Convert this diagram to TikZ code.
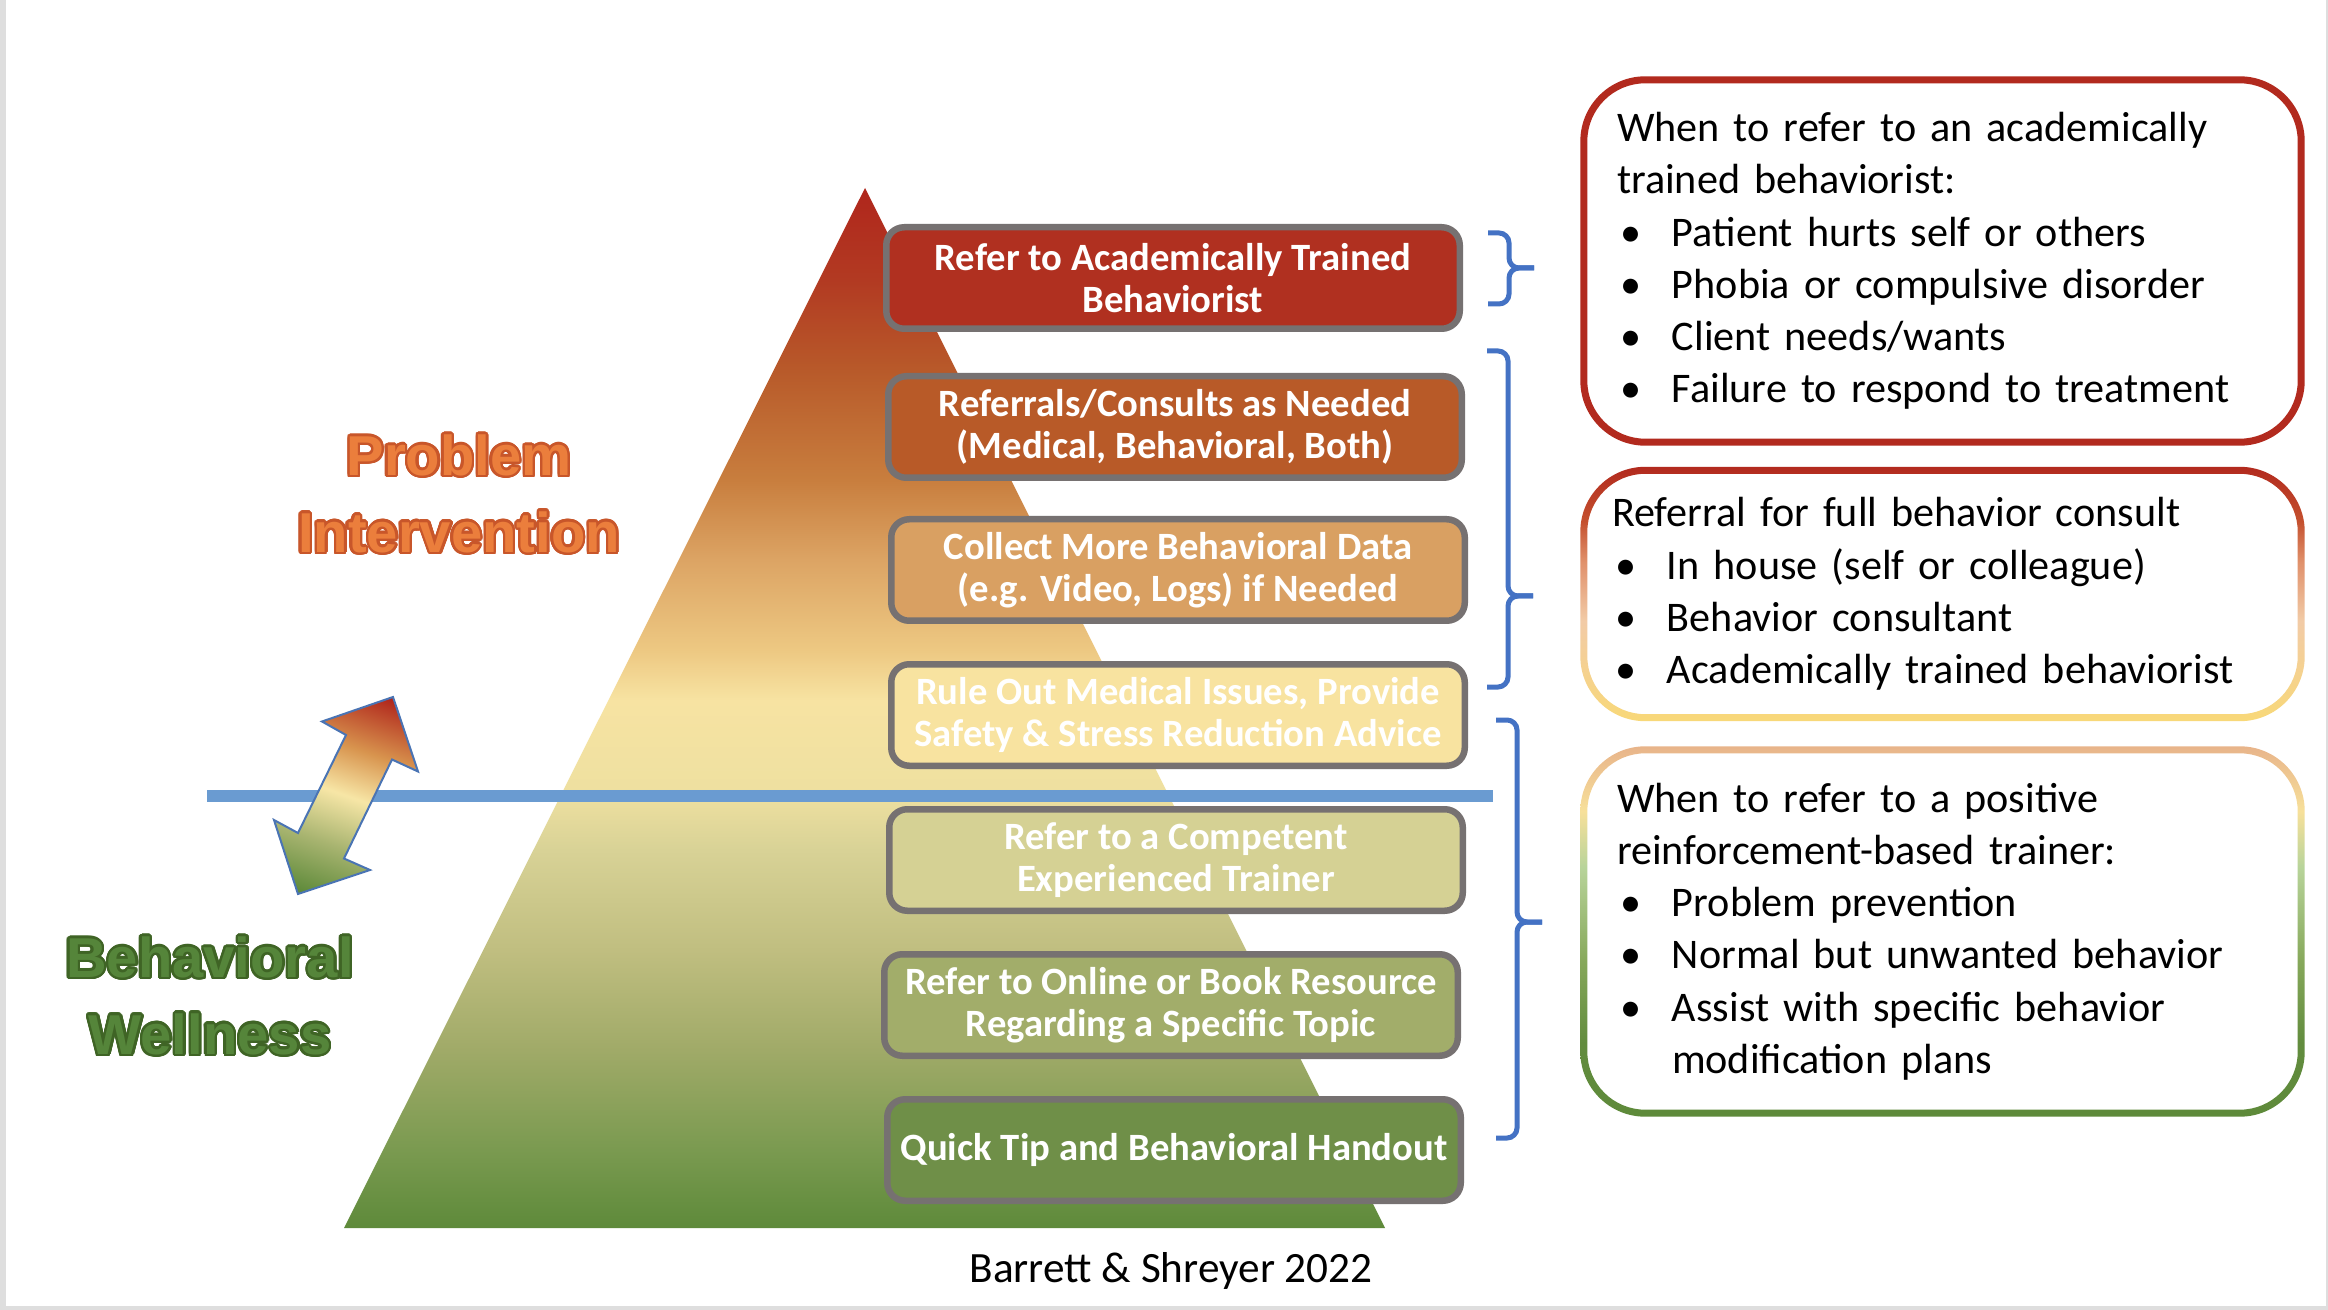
\documentclass[tikz,border=0pt]{standalone}
\usepackage{fontspec}
\setmainfont{Carlito}
\newfontfamily\headfont{Liberation Sans}
\usepackage[copies]{contour}
\contourlength{0.7pt}
\contournumber{24}
\usetikzlibrary{calc}
\setlength\parindent{0pt}

\definecolor{framegray}{HTML}{DEDEDE}
\definecolor{boxedge}{HTML}{767171}
\definecolor{levelblue}{HTML}{6A9BD1}
\definecolor{bracketblue}{HTML}{4472C4}
\definecolor{arrowblue}{HTML}{4A74B4}
\definecolor{tierA}{HTML}{B03020}
\definecolor{tierB}{HTML}{B85A28}
\definecolor{tierC}{HTML}{D9A062}
\definecolor{tierD}{HTML}{F8E3A0}
\definecolor{tierE}{HTML}{D5D194}
\definecolor{tierF}{HTML}{A2AD6A}
\definecolor{tierG}{HTML}{6F8F48}
\definecolor{probfill}{HTML}{EB7E3C}
\definecolor{probedge}{HTML}{C8562A}
\definecolor{wellfill}{HTML}{55853A}
\definecolor{welledge}{HTML}{3F6425}
\definecolor{rimred}{HTML}{B22A1E}
% pyramid colours, bottom to top
\definecolor{pyrA}{HTML}{5E8A3A}
\definecolor{pyrB}{HTML}{7A9A50}
\definecolor{pyrC}{HTML}{A0AA68}
\definecolor{pyrD}{HTML}{C0BE80}
\definecolor{pyrE}{HTML}{D8D296}
\definecolor{pyrF}{HTML}{EEE0A0}
\definecolor{pyrG}{HTML}{F7E3A2}
\definecolor{pyrH}{HTML}{EDC882}
\definecolor{pyrI}{HTML}{DCA464}
\definecolor{pyrJ}{HTML}{C87E3E}
\definecolor{pyrK}{HTML}{B85A2A}
\definecolor{pyrL}{HTML}{B23A22}
\definecolor{pyrM}{HTML}{B0261C}
% rim colours
\definecolor{rimA}{HTML}{C4502E}
\definecolor{rimB}{HTML}{E0906A}
\definecolor{rimC}{HTML}{F2CBA6}
\definecolor{rimD}{HTML}{F8D878}
\definecolor{rimE}{HTML}{E8B48A}
\definecolor{rimF}{HTML}{F7E09A}
\definecolor{rimG}{HTML}{B8D49A}
\definecolor{rimH}{HTML}{86A85A}
\definecolor{rimI}{HTML}{628C3E}
\definecolor{rimJ}{HTML}{5E8A3A}
% arrow colours
\definecolor{arrA}{HTML}{5E8A3A}
\definecolor{arrB}{HTML}{A8B470}
\definecolor{arrC}{HTML}{F7E6A6}
\definecolor{arrD}{HTML}{D8944E}
\definecolor{arrE}{HTML}{B0261C}

\pgfdeclareverticalshading{pyramidshade}{100bp}{color(0bp)=(pyrA); color(25bp)=(pyrA); color(28.75bp)=(pyrB); color(33.56bp)=(pyrC); color(38.37bp)=(pyrD); color(43.17bp)=(pyrE); color(45.87bp)=(pyrF); color(50.38bp)=(pyrG); color(52.79bp)=(pyrH); color(57.12bp)=(pyrI); color(60.96bp)=(pyrJ); color(66.2bp)=(pyrK); color(70.58bp)=(pyrL); color(75bp)=(pyrM); color(100bp)=(pyrM)}
\pgfdeclareverticalshading{consultrim}{100bp}{color(0bp)=(rimD); color(25bp)=(rimD); color(44.6bp)=(rimC); color(56.4bp)=(rimB); color(64.3bp)=(rimA); color(75bp)=(rimred); color(100bp)=(rimred)}
\pgfdeclareverticalshading{trainerrim}{100bp}{color(0bp)=(rimJ); color(25bp)=(rimJ); color(35bp)=(rimI); color(45.9bp)=(rimH); color(58.7bp)=(rimG); color(66.2bp)=(rimF); color(75bp)=(rimE); color(100bp)=(rimE)}
\pgfdeclareverticalshading{swapshade}{100bp}{color(0bp)=(arrA); color(21bp)=(arrA); color(36bp)=(arrB); color(50bp)=(arrC); color(63bp)=(arrD); color(79bp)=(arrE); color(100bp)=(arrE)}

\tikzset{
  tierbox/.style={draw=boxedge, line width=0.65mm, rounded corners=1.8mm, minimum width=57.35mm, minimum height=10.15mm, inner sep=0pt, align=center, text=white, font=\bfseries\fontsize{11}{12}\selectfont},
  notebox/.style={minimum width=72.3mm, text width=65.1mm, inner xsep=3.6mm, inner ysep=0pt, align=left, font=\fontsize{12}{14.86}\selectfont},
  bracketline/.style={draw=bracketblue, line width=0.5mm, rounded corners=1mm}
}

\begin{document}
\begin{tikzpicture}[x=0.1mm, y=-0.1mm]

\def\bul#1{\par\noindent\hangindent=5.5mm\makebox[5.5mm][l]{\kern0.3mm\textbullet}#1\par}
\def\rim#1#2{\path[#2, even odd rule] [rounded corners=6.5mm] (#1.north west) rectangle (#1.south east) [rounded corners=5.8mm] ([shift={(0.7mm,-0.7mm)}]#1.north west) rectangle ([shift={(-0.7mm,0.7mm)}]#1.south east);}
\def\bracket#1#2#3#4{\draw[bracketline] (#1,#2) -| (#1+21,#3) -- (#1+46,#3); \draw[bracketline] (#1+46,#3) -- (#1+21,#3) |- (#1,#4);}

\useasboundingbox (0,0) rectangle (2328,1310);
\fill[framegray] (0,0) rectangle (2328,1310);
\fill[white] (6,0) rectangle (2326,1306);

% pyramid, level line and swap arrow
\shade[shading=pyramidshade] (865,188) -- (1385,1228) -- (344,1228) -- cycle;
\draw[levelblue, line width=1.2mm] (207,796) -- (1493,796);
\shadedraw[shading=swapshade, shading angle=-19.4, draw=arrowblue, line width=0.2mm] (393,697) -- (418,771.5) -- (392,759.5) -- (344,858.5) -- (370,870) -- (298,894) -- (274,820) -- (298,833) -- (346,735) -- (322,721.5) -- cycle;

\node[font=\headfont\bfseries\fontsize{16}{21.9}\selectfont, text=probfill, align=center] (PI) at (459,495) {\contour{probedge}{Problem}\\\contour{probedge}{Intervention}};
\node[font=\headfont\bfseries\fontsize{16}{21.9}\selectfont, text=wellfill, align=center] (BW) at (210,997) {\contour{welledge}{Behavioral}\\\contour{welledge}{Wellness}};

% tiers
\node[tierbox, fill=tierA] (AT) at (1173,278) {Refer to Academically Trained\\Behaviorist};
\node[tierbox, fill=tierB] (RC) at (1175,427) {Referrals/Consults as Needed\\(Medical, Behavioral, Both)};
\node[tierbox, fill=tierC] (BD) at (1178,570) {Collect More Behavioral Data\\(e.g. Video, Logs) if Needed};
\node[tierbox, fill=tierD] (MI) at (1178,715) {Rule Out Medical Issues, Provide\\Safety \& Stress Reduction Advice};
\node[tierbox, fill=tierE] (CT) at (1176,860) {Refer to a Competent\\Experienced Trainer};
\node[tierbox, fill=tierF] (OR) at (1171,1005) {Refer to Online or Book Resource\\Regarding a Specific Topic};
\node[tierbox, fill=tierG] (QT) at (1174,1150) {Quick Tip and Behavioral Handout};

\bracket{1488}{233}{268}{304}
\bracket{1487}{351}{596}{687}
\bracket{1496}{720}{922}{1138}

% notes
\node[notebox, minimum height=36.8mm] (WB) at (1942.5,261) {When to refer to an academically\\trained behaviorist:
\bul{Patient hurts self or others}
\bul{Phobia or compulsive disorder}
\bul{Client needs/wants}
\bul{Failure to respond to treatment}};
\node[notebox, minimum height=25.3mm, text width=66.1mm, inner xsep=3.1mm] (FC) at (1942.5,594) {Referral for full behavior consult
\bul{In house (self or colleague)}
\bul{Behavior consultant}
\bul{Academically trained behaviorist}};
\node[notebox, minimum height=36.9mm] (PT) at (1942.5,931.5) {When to refer to a positive\\reinforcement-based trainer:
\bul{Problem prevention}
\bul{Normal but unwanted behavior}
\bul{Assist with specific behavior\newline modification plans}};
\rim{WB}{fill=rimred}
\rim{FC}{shade, shading=consultrim}
\rim{PT}{shade, shading=trainerrim}

\node[font=\fontsize{12.3}{14}\selectfont, anchor=base] (BS) at (1171,1282) {Barrett \& Shreyer 2022};

\end{tikzpicture}
\end{document}
